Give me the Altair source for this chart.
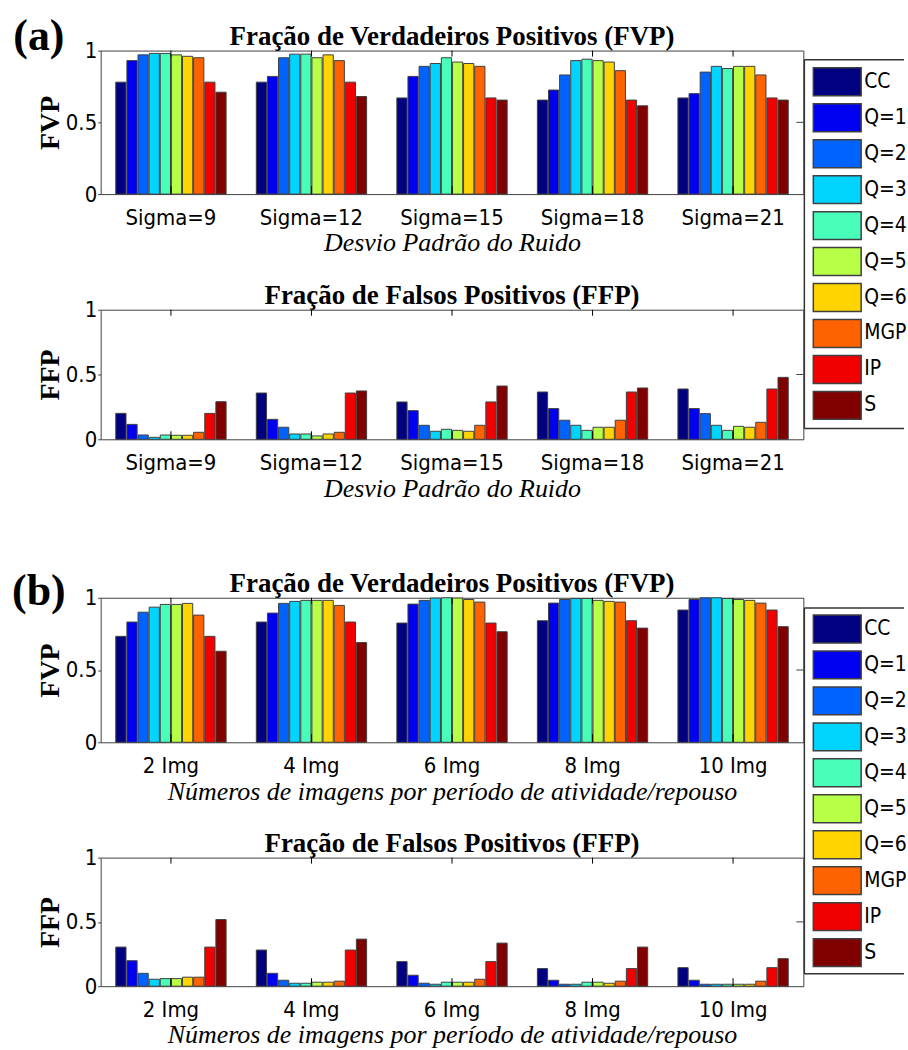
import altair as alt
import pandas as pd

METHODS = ["CC", "Q=1", "Q=2", "Q=3", "Q=4", "Q=5", "Q=6", "MGP", "IP", "S"]
COLORS = ["#000080", "#0000F1", "#0063FF", "#00D4FF", "#47FFB8",
          "#B8FF47", "#FFD400", "#FF6300", "#F10000", "#800000"]

SIGMAS = ["Sigma=9", "Sigma=12", "Sigma=15", "Sigma=18", "Sigma=21"]
IMGS = ["2 Img", "4 Img", "6 Img", "8 Img", "10 Img"]

# rows = groups, columns = METHODS
FVP_A = [
    [0.78, 0.93, 0.97, 0.98, 0.98, 0.97, 0.96, 0.95, 0.78, 0.71],
    [0.78, 0.82, 0.95, 0.975, 0.975, 0.95, 0.97, 0.93, 0.78, 0.68],
    [0.67, 0.82, 0.89, 0.91, 0.95, 0.92, 0.91, 0.89, 0.67, 0.655],
    [0.655, 0.725, 0.83, 0.93, 0.94, 0.93, 0.92, 0.86, 0.655, 0.615],
    [0.67, 0.70, 0.85, 0.89, 0.875, 0.89, 0.89, 0.83, 0.67, 0.655],
]
FFP_A = [
    [0.20, 0.115, 0.033, 0.015, 0.033, 0.031, 0.031, 0.054, 0.20, 0.29],
    [0.357, 0.154, 0.093, 0.041, 0.041, 0.026, 0.041, 0.054, 0.357, 0.373],
    [0.288, 0.221, 0.108, 0.062, 0.077, 0.069, 0.062, 0.108, 0.288, 0.411],
    [0.365, 0.237, 0.147, 0.108, 0.069, 0.093, 0.093, 0.147, 0.365, 0.396],
    [0.388, 0.237, 0.198, 0.108, 0.069, 0.10, 0.093, 0.131, 0.388, 0.478],
]
FVP_B = [
    [0.733, 0.832, 0.90, 0.935, 0.954, 0.954, 0.961, 0.88, 0.733, 0.63],
    [0.832, 0.894, 0.961, 0.975, 0.982, 0.982, 0.982, 0.947, 0.832, 0.69],
    [0.825, 0.956, 0.982, 0.998, 1.0, 0.998, 0.988, 0.97, 0.825, 0.765],
    [0.841, 0.963, 0.988, 0.995, 0.995, 0.982, 0.975, 0.97, 0.841, 0.79],
    [0.915, 0.988, 1.0, 1.0, 0.995, 0.988, 0.982, 0.963, 0.915, 0.80],
]
FFP_B = [
    [0.304, 0.198, 0.10, 0.054, 0.059, 0.059, 0.07, 0.07, 0.304, 0.518],
    [0.281, 0.10, 0.046, 0.023, 0.023, 0.031, 0.031, 0.039, 0.281, 0.366],
    [0.191, 0.085, 0.023, 0.015, 0.031, 0.031, 0.031, 0.054, 0.191, 0.335],
    [0.137, 0.046, 0.015, 0.015, 0.031, 0.031, 0.023, 0.039, 0.137, 0.304],
    [0.144, 0.046, 0.015, 0.015, 0.015, 0.015, 0.015, 0.039, 0.144, 0.214],
]

TITLE_FVP = "Fração de Verdadeiros Positivos (FVP)"
TITLE_FFP = "Fração de Falsos Positivos (FFP)"
XT_A = "Desvio Padrão do Ruido"
XT_B = "Números de imagens por período de atividade/repouso"

SERIF = "'Liberation Serif', 'Times New Roman', serif"
NARROW = "'DejaVu Sans Condensed', 'Liberation Sans Narrow', sans-serif"
W = 705
EDGE = "#404040"
RECT_PATH = "M-1,-0.583L1,-0.583L1,0.583L-1,0.583Z"
ONE = pd.DataFrame({"k": [0]})
COLOR_SCALE = alt.Scale(domain=METHODS, range=COLORS)


def legend_layers(box_top, box_bot):
    ldf = pd.DataFrame({"method": METHODS})
    ly = alt.Y("method:N", sort=METHODS, axis=None,
               scale=alt.Scale(type="point", range=[31.3, 356], padding=0))
    sym = alt.Chart(ldf).mark_point(shape=RECT_PATH, size=2304, filled=True, opacity=1,
                                    stroke=EDGE, strokeWidth=1.5).encode(
        x=alt.value(739), y=ly,
        fill=alt.Fill("method:N", sort=METHODS, scale=COLOR_SCALE, legend=None))
    txt = alt.Chart(ldf).mark_text(font=NARROW, fontSize=21, align="left", baseline="middle",
                                   color="black").encode(
        x=alt.value(766), y=ly, text="method:N")
    line_kw = dict(color="#333333", strokeWidth=1.5)
    top = alt.Chart(ONE).mark_rule(**line_kw).encode(
        x=alt.value(706), x2=alt.value(806), y=alt.value(box_top))
    bot = alt.Chart(ONE).mark_rule(**line_kw).encode(
        x=alt.value(706), x2=alt.value(806), y=alt.value(box_bot))
    left = alt.Chart(ONE).mark_rule(**line_kw).encode(
        x=alt.value(706), y=alt.value(box_top), y2=alt.value(box_bot))
    return [sym, txt, top, bot, left]


def panel(groups, values, h, title, ytitle, xtitle, top_m, bot_m, tag=None, tag_y=0, legend_box=None):
    rows = [{"group": g, "method": m, "value": v}
            for g, row in zip(groups, values) for m, v in zip(METHODS, row)]
    df = pd.DataFrame(rows)
    xs = alt.X("group:N", sort=groups,
               scale=alt.Scale(paddingInner=0.215, paddingOuter=0.1075),
               axis=alt.Axis(title=xtitle, labelAngle=0, ticks=False, domain=False,
                             labelFont=NARROW, labelFontSize=22, labelColor="black",
                             labelBaseline="alphabetic", labelPadding=30.7,
                             titleFont=SERIF, titleFontStyle="italic", titleFontWeight="normal",
                             titleFontSize=26, titleColor="black", titleBaseline="alphabetic",
                             titleY=57, titleX=W / 2))
    bars = alt.Chart(df).mark_bar(stroke=EDGE, strokeWidth=1).encode(
        x=xs,
        xOffset=alt.XOffset("method:N", sort=METHODS, scale=alt.Scale(paddingInner=0.08)),
        y=alt.Y("value:Q", scale=alt.Scale(domain=[0, 1]),
                axis=alt.Axis(values=[0, 0.5, 1], format="~g", grid=False, domain=False,
                              tickSize=3, tickColor=EDGE, labelPadding=1,
                              labelFont=NARROW, labelFontSize=22, labelColor="black",
                              title=ytitle, titleFont=SERIF, titleFontWeight="bold",
                              titleFontSize=28, titleColor="black", titleAngle=-90,
                              titleBaseline="alphabetic", titleAlign="center",
                              titleX=-42, titleY=h / 2)),
        color=alt.Color("method:N", sort=METHODS, scale=COLOR_SCALE, legend=None),
    )
    gdf = pd.DataFrame({"group": groups})
    tk_bot = alt.Chart(gdf).mark_rule(color="black", strokeWidth=1).encode(
        x=alt.X("group:N", sort=groups), y=alt.value(h - 8), y2=alt.value(h))
    tk_top = alt.Chart(gdf).mark_rule(color="black", strokeWidth=1).encode(
        x=alt.X("group:N", sort=groups), y=alt.value(0), y2=alt.value(6))
    tk_right = alt.Chart(ONE).mark_rule(color=EDGE, strokeWidth=1).encode(
        y=alt.Y(datum=0.5, scale=alt.Scale(domain=[0, 1]), axis=None),
        x=alt.value(W - 7), x2=alt.value(W))
    ttl = alt.Chart(ONE).mark_text(text=title, font=SERIF, fontWeight="bold", fontSize=27,
                                   align="center", baseline="alphabetic", color="black").encode(
        x=alt.value(W / 2), y=alt.value(-6))
    marker = alt.Chart(ONE).mark_rect(color="white", strokeWidth=0).encode(
        x=alt.value(-100), x2=alt.value(-99), y=alt.value(top_m), y2=alt.value(bot_m))
    layers = [marker, bars, tk_bot, tk_top, tk_right, ttl]
    if tag:
        layers.append(alt.Chart(ONE).mark_text(text=tag, font=SERIF, fontWeight="bold", fontSize=44,
                                               align="center", baseline="alphabetic", color="black").encode(
            x=alt.value(-62), y=alt.value(tag_y)))
    if legend_box:
        layers += legend_layers(*legend_box)
    return alt.layer(*layers).resolve_scale(y="independent").properties(width=W, height=h)


p1 = panel(SIGMAS, FVP_A, 144, TITLE_FVP, "FVP", XT_A, -47.7, 222.3, "(a)", -1, (9.3, 379.3))
p2 = panel(SIGMAS, FFP_A, 130, TITLE_FFP, "FFP", XT_A, -37.7, 232.3)
p3 = panel(IMGS, FVP_B, 145, TITLE_FVP, "FVP", XT_B, -54.7, 227.3, "(b)", 7, (10.3, 377.3))
p4 = panel(IMGS, FFP_B, 129, TITLE_FFP, "FFP", XT_B, -33, 150)

A = alt.vconcat(p1, p2, spacing=116, bounds="flush").resolve_scale(x="independent", y="independent")
B = alt.vconcat(p3, p4, spacing=115.7, bounds="flush").resolve_scale(x="independent", y="independent")

chart = alt.vconcat(A, B, spacing=0).resolve_scale(
    x="independent", y="independent"
).properties(padding=0).configure_view(stroke=EDGE, strokeWidth=1)

chart.save("out.html", embed_options={"renderer": "svg", "actions": False})
